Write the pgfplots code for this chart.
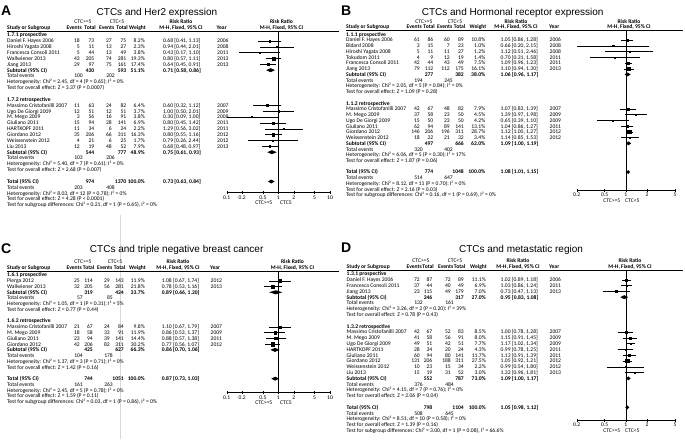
\documentclass[border=0pt]{standalone}
\usepackage{pgfplots}
\pgfplotsset{compat=1.18}
\usepackage{pgfplotstable}
\usepackage{fontspec}
\setmainfont{Carlito}
\newfontfamily\arialf{Liberation Sans}
\newcommand\tf{\fontsize{5.6}{6}\selectfont}

\newcommand\RY[1]{\yz+#1*\rs+1.9}
\newcommand\srow[9]{%
 \node[anchor=base west] at (\xN,{\RY{#1}}) {#2};
 \node[anchor=base east] at (\xEa,{\RY{#1}}) {#3};
 \node[anchor=base east] at (\xTa,{\RY{#1}}) {#4};
 \node[anchor=base east] at (\xEb,{\RY{#1}}) {#5};
 \node[anchor=base east] at (\xTb,{\RY{#1}}) {#6};
 \node[anchor=base east] at (\xW,{\RY{#1}}) {#7};
 \node[anchor=base west] at (\xCI,{\RY{#1}}) {#8};
 \node[anchor=base west] at (\xY,{\RY{#1}}) {#9};}
\newcommand\subrow[5]{%
 \node[anchor=base west,font=\tf\bfseries] at (\xN,{\RY{#1}}) {Subtotal (95\% CI)};
 \node[anchor=base east,font=\tf\bfseries] at (\xTa,{\RY{#1}}) {#2};
 \node[anchor=base east,font=\tf\bfseries] at (\xTb,{\RY{#1}}) {#3};
 \node[anchor=base east,font=\tf\bfseries] at (\xW,{\RY{#1}}) {#4};
 \node[anchor=base west,font=\tf\bfseries] at (\xCI,{\RY{#1}}) {#5};}
\newcommand\totrow[4]{%
 \node[anchor=base west,font=\tf\bfseries] at (\xN,{\RY{#1}}) {Total (95\% CI)};
 \node[anchor=base east,font=\tf\bfseries] at (\xTa,{\RY{#1}}) {#2};
 \node[anchor=base east,font=\tf\bfseries] at (\xTb,{\RY{#1}}) {#3};
 \node[anchor=base east,font=\tf\bfseries] at (\xW,{\RY{#1}}) {100.0\%};
 \node[anchor=base west,font=\tf\bfseries] at (\xCI,{\RY{#1}}) {#4};}
\newcommand\evrow[3]{%
 \node[anchor=base west] at (\xN,{\RY{#1}}) {Total events};
 \node[anchor=base east] at ({\xEa+3},{\RY{#1}}) {#2};
 \node[anchor=base east] at ({\xEb+3},{\RY{#1}}) {#3};}
\newcommand\txt[2]{\node[anchor=base west] at (\xN,{\RY{#1}}) {#2};}
\newcommand\btxt[2]{\node[anchor=base west,font=\tf\bfseries] at (\xN,{\RY{#1}}) {#2};}
\newcommand\hdr{%
 \node[anchor=base] at (\hCa,{\yz-13+1.9}) {CTC>=5};
 \node[anchor=base] at (\hCb,{\yz-13+1.9}) {CTC<5};
 \node[anchor=base,font=\tf\bfseries] at (\hRR,{\yz-13+1.9}) {Risk Ratio};
 \node[anchor=base,font=\tf\bfseries] at (\hRRr,{\yz-13+1.9}) {Risk Ratio};
 \node[anchor=base west,font=\tf\bfseries] at (\xN,{\yz-7.5+1.9}) {Study or Subgroup};
 \node[anchor=base east,font=\tf\bfseries] at ({\xEa+2},{\yz-7.5+1.9}) {Events};
 \node[anchor=base east,font=\tf\bfseries] at ({\xTa+1.5},{\yz-7.5+1.9}) {Total};
 \node[anchor=base east,font=\tf\bfseries] at ({\xEb+2.5},{\yz-7.5+1.9}) {Events};
 \node[anchor=base east,font=\tf\bfseries] at ({\xTb+1.5},{\yz-7.5+1.9}) {Total};
 \node[anchor=base east,font=\tf\bfseries] at ({\xW+1},{\yz-7.5+1.9}) {Weight};
 \node[anchor=base,font=\tf\bfseries] at (\hRR,{\yz-7.5+1.9}) {M-H, Fixed, 95\% CI};
 \node[anchor=base west,font=\tf\bfseries] at ({\xY-0.5},{\yz-7.5+1.9}) {Year};
 \node[anchor=base,font=\tf\bfseries] at (\hRRr,{\yz-7.5+1.9}) {M-H, Fixed, 95\% CI};
 \draw[line width=0.6pt] (\xN,{\yz-4}) -- (\xLE,{\yz-4});}

\pgfplotsset{
 fplot/.style={scale only axis,
   axis y line=none, axis x line*=bottom,
   tick align=center, major tick length=3pt,
   tick style={black,line width=0.4pt}, axis line style={black,line width=0.5pt},
   xticklabel style={font=\tf, inner sep=0.5pt, yshift=-1pt}},
 sq/.style={scatter, only marks, mark=square*, point meta=\thisrow{w},
   scatter/use mapped color={draw=black,fill=black},
   visualization depends on={\thisrow{w}\as\wt},
   scatter/@pre marker code/.append style={/tikz/mark size={max(0.55,0.32*sqrt(\wt))}},
   error bars/x dir=both, error bars/x explicit, error bars/error mark=none,
   error bars/error bar style={black,line width=0.4pt}},
 dm/.style={fill=black, draw=none}
}

\pgfplotstableread{
k rr lo hi w
1 0.68 0.41 1.13 8.2
2 0.94 0.44 2.01 2.3
3 0.43 0.17 1.10 3.8
4 0.80 0.57 1.11 19.3
5 0.64 0.45 0.91 17.4
12 0.60 0.32 1.12 6.4
13 1.00 0.50 2.01 3.7
14 0.30 0.09 1.00 3.8
15 0.80 0.45 1.42 6.9
16 1.29 0.56 3.02 2.2
17 0.80 0.55 1.16 16.3
18 0.79 0.26 2.44 1.7
19 0.68 0.48 0.97 7.9
}\tA
\pgfplotstableread{
k rr lo hi w
1 1.05 0.86 1.28 10.8
2 0.66 0.20 2.15 1.0
3 1.12 0.51 2.46 1.2
4 0.70 0.31 1.58 1.4
5 1.09 0.96 1.23 7.5
6 1.10 0.94 1.30 16.1
13 1.07 0.83 1.39 7.9
14 1.39 0.97 1.98 4.5
15 0.65 0.39 1.10 4.2
16 1.04 0.86 1.27 13.1
17 1.12 1.00 1.27 28.7
18 1.14 0.85 1.53 3.4
}\tB
\pgfplotstableread{
k rr lo hi w
1 1.08 0.67 1.74 11.9
2 0.78 0.53 1.16 21.8
9 1.10 0.67 1.79 9.8
10 0.86 0.53 1.37 11.9
11 0.88 0.57 1.38 14.4
12 0.77 0.56 1.07 30.2
}\tC
\pgfplotstableread{
k rr lo hi w
1 1.02 0.89 1.18 11.1
2 1.03 0.86 1.24 6.9
3 0.73 0.47 1.13 7.0
10 1.00 0.78 1.28 8.5
11 1.15 0.91 1.45 8.0
12 1.17 1.02 1.34 7.7
13 0.99 0.78 1.25 4.3
14 1.13 0.91 1.39 11.7
15 1.05 0.92 1.21 27.5
16 0.99 0.54 1.80 2.2
17 1.32 0.96 1.81 3.0
}\tD
% diamonds: x k d
\pgfplotstableread{
x k d
0.58 6 0
0.71 6 2
0.86 6 0
0.71 6 -2
nan nan nan
0.61 20 0
0.75 20 2
0.93 20 0
0.75 20 -2
nan nan nan
0.63 25 0
0.73 25 2
0.84 25 0
0.73 25 -2
}\dA
\pgfplotstableread{
x k d
0.96 7 0
1.06 7 2
1.17 7 0
1.06 7 -2
nan nan nan
1.00 19 0
1.09 19 2
1.19 19 0
1.09 19 -2
nan nan nan
1.01 24 0
1.08 24 2
1.15 24 0
1.08 24 -2
}\dB
\pgfplotstableread{
x k d
0.66 3 0
0.89 3 2
1.20 3 0
0.89 3 -2
nan nan nan
0.70 13 0
0.86 13 2
1.06 13 0
0.86 13 -2
nan nan nan
0.73 18 0
0.87 18 2
1.03 18 0
0.87 18 -2
}\dC
\pgfplotstableread{
x k d
0.83 4 0
0.95 4 2
1.08 4 0
0.95 4 -2
nan nan nan
1.00 18 0
1.09 18 2
1.17 18 0
1.09 18 -2
nan nan nan
0.98 23 0
1.05 23 2
1.12 23 0
1.05 23 -2
}\dD

\begin{document}
\begin{tikzpicture}
\path[use as bounding box] (0pt,0pt) rectangle (685pt,-439pt);

% ---------- forest plots ----------
\begin{axis}[xmode=log, fplot, anchor=south west, at={(226.7pt,-192.3pt)}, width=103.3pt, height=161.3pt,
  xmin=0.1, xmax=10, ymin=-192.3, ymax=-31, xminorticks=false,
  xtick={0.1,0.2,0.5,1,2,5,10}, xticklabels={0.1,0.2,0.5,1,2,5,10}]
 \addplot[black,line width=0.5pt] coordinates {(1,-31) (1,-192.3)};
 \addplot[sq] table[x=rr, y expr={-(35+\thisrow{k}*5.86)},
   x error plus expr={\thisrow{hi}-\thisrow{rr}}, x error minus expr={\thisrow{rr}-\thisrow{lo}}] {\tA};
 \addplot[dm, unbounded coords=jump] table[x=x, y expr={-(35+\thisrow{k}*5.86)+\thisrow{d}}] {\dA};
\end{axis}

\begin{axis}[xmode=log, fplot, anchor=south west, at={(576.7pt,-190pt)}, width=98.3pt, height=159.7pt,
  xmin=0.2, xmax=5, ymin=-190, ymax=-30.3, xminorticks=false,
  xtick={0.2,0.5,1,2,5}, xticklabels={0.2,0.5,1,2,5}]
 \addplot[black,line width=0.5pt] coordinates {(1,-30.3) (1,-190)};
 \addplot[sq] table[x=rr, y expr={-(34.3+\thisrow{k}*5.74)},
   x error plus expr={\thisrow{hi}-\thisrow{rr}}, x error minus expr={\thisrow{rr}-\thisrow{lo}}] {\tB};
 \addplot[dm, unbounded coords=jump] table[x=x, y expr={-(34.3+\thisrow{k}*5.74)+\thisrow{d}}] {\dB};
\end{axis}

\begin{axis}[xmode=log, fplot, anchor=south west, at={(226.7pt,-392.7pt)}, width=103.3pt, height=121.7pt,
  xmin=0.1, xmax=10, ymin=-392.7, ymax=-271, xminorticks=false,
  xtick={0.1,0.2,0.5,1,2,5,10}, xticklabels={0.1,0.2,0.5,1,2,5,10}]
 \addplot[black,line width=0.5pt] coordinates {(1,-271) (1,-392.7)};
 \addplot[sq] table[x=rr, y expr={-(275+\thisrow{k}*5.76)},
   x error plus expr={\thisrow{hi}-\thisrow{rr}}, x error minus expr={\thisrow{rr}-\thisrow{lo}}] {\tC};
 \addplot[dm, unbounded coords=jump] table[x=x, y expr={-(275+\thisrow{k}*5.76)+\thisrow{d}}] {\dC};
\end{axis}

\begin{axis}[xmode=log, fplot, anchor=south west, at={(576.7pt,-420pt)}, width=98.3pt, height=150pt,
  xmin=0.2, xmax=5, ymin=-420, ymax=-270, xminorticks=false,
  xtick={0.2,0.5,1,2,5}, xticklabels={0.2,0.5,1,2,5}]
 \addplot[black,line width=0.5pt] coordinates {(1,-270) (1,-420)};
 \addplot[sq] table[x=rr, y expr={-(274+\thisrow{k}*5.8)},
   x error plus expr={\thisrow{hi}-\thisrow{rr}}, x error minus expr={\thisrow{rr}-\thisrow{lo}}] {\tD};
 \addplot[dm, unbounded coords=jump] table[x=x, y expr={-(274+\thisrow{k}*5.8)+\thisrow{d}}] {\dD};
\end{axis}

% ---------- text ----------
\begin{scope}[x=1pt, y=-1pt, every node/.style={inner sep=0pt, font=\tf}]
\draw[gray!30, line width=0.4pt] (120,215) -- (120,439);

% ===== Panel A =====
\node[anchor=base west, font=\arialf\bfseries\fontsize{14}{16}\selectfont] at (1,15) {A};
\node[anchor=base, font=\arialf\fontsize{10}{12}\selectfont] at (157,15) {CTCs and Her2 expression};
\def\yz{35}\def\rs{5.86}
\def\xN{7}\def\xEa{80}\def\xTa{94.5}\def\xEb{112}\def\xTb{126.5}\def\xW{145}\def\xCI{163}\def\xY{217}
\def\hCa{83}\def\hCb{117}\def\hRR{181}\def\hRRr{281.5}\def\xLE{339}
\hdr
\btxt{0}{1.7.1 prospective}
\srow{1}{Daniel F. Hayes 2006}{18}{73}{27}{75}{8.2\%}{0.68 [0.41, 1.13]}{2006}
\srow{2}{Hiroshi Yagata 2008}{5}{11}{13}{27}{2.3\%}{0.94 [0.44, 2.01]}{2008}
\srow{3}{Francesca Consoli 2011}{5}{44}{13}{49}{3.8\%}{0.43 [0.17, 1.10]}{2011}
\srow{4}{Wallwiener 2013}{43}{205}{74}{281}{19.3\%}{0.80 [0.57, 1.11]}{2013}
\srow{5}{Jiang 2013}{29}{97}{75}{161}{17.4\%}{0.64 [0.45, 0.91]}{2013}
\subrow{6}{430}{593}{51.1\%}{0.71 [0.58, 0.86]}
\evrow{7}{100}{202}
\txt{8}{Heterogeneity: Chi² = 2.45, df = 4 (P = 0.65); I² = 0\%}
\txt{9}{Test for overall effect: Z = 3.37 (P = 0.0007)}
\btxt{11}{1.7.2 retrospective}
\srow{12}{Massimo Cristofanilli 2007}{11}{63}{24}{82}{6.4\%}{0.60 [0.32, 1.12]}{2007}
\srow{13}{Ugo De Giorgi 2009}{12}{51}{12}{51}{3.7\%}{1.00 [0.50, 2.01]}{2009}
\srow{14}{M. Mego 2009}{3}{56}{16}{91}{3.8\%}{0.30 [0.09, 1.00]}{2009}
\srow{15}{Giuliano 2011}{15}{94}{28}{141}{6.9\%}{0.80 [0.45, 1.42]}{2011}
\srow{16}{HARTKOPF 2011}{11}{34}{6}{24}{2.2\%}{1.29 [0.56, 3.02]}{2011}
\srow{17}{Giordano 2012}{35}{206}{66}{311}{16.3\%}{0.80 [0.55, 1.16]}{2012}
\srow{18}{Weissenstein 2012}{4}{21}{6}{25}{1.7\%}{0.79 [0.26, 2.44]}{2012}
\srow{19}{Liu 2013}{12}{19}{48}{52}{7.9\%}{0.68 [0.48, 0.97]}{2013}
\subrow{20}{544}{777}{48.9\%}{0.75 [0.61, 0.93]}
\evrow{21}{103}{206}
\txt{22}{Heterogeneity: Chi² = 5.40, df = 7 (P = 0.61); I² = 0\%}
\txt{23}{Test for overall effect: Z = 2.68 (P = 0.007)}
\totrow{25}{974}{1370}{0.73 [0.63, 0.84]}
\evrow{26}{203}{408}
\txt{27}{Heterogeneity: Chi² = 8.03, df = 12 (P = 0.78); I² = 0\%}
\txt{28}{Test for overall effect: Z = 4.28 (P < 0.0001)}
\txt{29}{Test for subgroup differences: Chi² = 0.21, df = 1 (P = 0.65), I² = 0\%}
\node[anchor=base east] at (272.5,{192.3+12.3}) {CTC>=5};
\node[anchor=base west] at (280,{192.3+12.3}) {CTC5};

% ===== Panel B =====
\node[anchor=base west, font=\arialf\bfseries\fontsize{14}{16}\selectfont] at (341,15) {B};
\node[anchor=base, font=\arialf\fontsize{10}{12}\selectfont] at (512.7,15) {CTCs and Hormonal receptor expression};
\def\yz{34.3}\def\rs{5.74}
\def\xN{346}\def\xEa{420}\def\xTa{433.5}\def\xEb{450}\def\xTb{464}\def\xW{485.5}\def\xCI{500.5}\def\xY{549.5}
\def\hCa{424}\def\hCb{455}\def\hRR{516}\def\hRRr{629}\def\xLE{683}
\hdr
\btxt{0}{1.1.1 prospective}
\srow{1}{Daniel F. Hayes 2006}{61}{86}{60}{89}{10.8\%}{1.05 [0.86, 1.28]}{2006}
\srow{2}{Bidard 2008}{3}{15}{7}{23}{1.0\%}{0.66 [0.20, 2.15]}{2008}
\srow{3}{Hiroshi Yagata 2008}{5}{11}{11}{27}{1.2\%}{1.12 [0.51, 2.46]}{2008}
\srow{4}{Tokudom 2011}{4}{9}{12}{19}{1.4\%}{0.70 [0.31, 1.58]}{2011}
\srow{5}{Francesca Consoli 2011}{42}{44}{43}{49}{7.5\%}{1.09 [0.96, 1.23]}{2011}
\srow{6}{Jiang 2013}{79}{112}{112}{175}{16.1\%}{1.10 [0.94, 1.30]}{2013}
\subrow{7}{277}{382}{38.0\%}{1.06 [0.96, 1.17]}
\evrow{8}{194}{245}
\txt{9}{Heterogeneity: Chi² = 2.05, df = 5 (P = 0.84); I² = 0\%}
\txt{10}{Test for overall effect: Z = 1.09 (P = 0.28)}
\btxt{12}{1.1.2 retrospective}
\srow{13}{Massimo Cristofanilli 2007}{42}{67}{48}{82}{7.9\%}{1.07 [0.83, 1.39]}{2007}
\srow{14}{M. Mego 2009}{37}{58}{23}{50}{4.5\%}{1.39 [0.97, 1.98]}{2009}
\srow{15}{Ugo De Giorgi 2009}{15}{50}{23}{50}{4.2\%}{0.65 [0.39, 1.10]}{2009}
\srow{16}{Giuliano 2011}{62}{94}{89}{141}{13.1\%}{1.04 [0.86, 1.27]}{2011}
\srow{17}{Giordano 2012}{146}{206}{196}{311}{28.7\%}{1.12 [1.00, 1.27]}{2012}
\srow{18}{Weissenstein 2012}{18}{22}{21}{32}{3.4\%}{1.14 [0.85, 1.53]}{2012}
\subrow{19}{497}{666}{62.0\%}{1.09 [1.00, 1.19]}
\evrow{20}{320}{402}
\txt{21}{Heterogeneity: Chi² = 6.06, df = 5 (P = 0.30); I² = 17\%}
\txt{22}{Test for overall effect: Z = 1.87 (P = 0.06)}
\totrow{24}{774}{1048}{1.08 [1.01, 1.15]}
\evrow{25}{514}{647}
\txt{26}{Heterogeneity: Chi² = 8.12, df = 11 (P = 0.70); I² = 0\%}
\txt{27}{Test for overall effect: Z = 2.16 (P = 0.03)}
\txt{28}{Test for subgroup differences: Chi² = 0.16, df = 1 (P = 0.69), I² = 0\%}
\node[anchor=base east] at (620.5,{190+12}) {CTC>=5};
\node[anchor=base west] at (625,{190+12}) {CTC<5};

% ===== Panel C =====
\node[anchor=base west, font=\arialf\bfseries\fontsize{14}{16}\selectfont] at (1,253) {C};
\node[anchor=base, font=\arialf\fontsize{10}{12}\selectfont] at (176.7,252.5) {CTCs and triple negative breast cancer};
\def\yz{275}\def\rs{5.76}
\def\xN{7}\def\xEa{80}\def\xTa{93}\def\xEb{110}\def\xTb{124}\def\xW{145}\def\xCI{161.7}\def\xY{210.5}
\def\hCa{83}\def\hCb{115}\def\hRR{178}\def\hRRr{292.5}\def\xLE{339}
\hdr
\btxt{0}{1.6.1 prospective}
\srow{1}{Pierga 2012}{25}{114}{29}{143}{11.9\%}{1.08 [0.67, 1.74]}{2012}
\srow{2}{Wallwiener 2013}{32}{205}{56}{281}{21.8\%}{0.78 [0.53, 1.16]}{2013}
\subrow{3}{319}{424}{33.7\%}{0.89 [0.66, 1.20]}
\evrow{4}{57}{85}
\txt{5}{Heterogeneity: Chi² = 1.05, df = 1 (P = 0.31); I² = 5\%}
\txt{6}{Test for overall effect: Z = 0.77 (P = 0.44)}
\btxt{8}{1.6.2 retrospective}
\srow{9}{Massimo Cristofanilli 2007}{21}{67}{24}{84}{9.8\%}{1.10 [0.67, 1.79]}{2007}
\srow{10}{M. Mego 2009}{18}{58}{33}{91}{11.9\%}{0.86 [0.53, 1.37]}{2009}
\srow{11}{Giuliano 2011}{23}{94}{39}{141}{14.4\%}{0.88 [0.57, 1.38]}{2011}
\srow{12}{Giordano 2012}{42}{206}{82}{311}{30.2\%}{0.77 [0.56, 1.07]}{2012}
\subrow{13}{425}{627}{66.3\%}{0.86 [0.70, 1.06]}
\evrow{14}{104}{178}
\txt{15}{Heterogeneity: Chi² = 1.37, df = 3 (P = 0.71); I² = 0\%}
\txt{16}{Test for overall effect: Z = 1.42 (P = 0.16)}
\totrow{18}{744}{1051}{0.87 [0.73, 1.03]}
\evrow{19}{161}{263}
\txt{20}{Heterogeneity: Chi² = 2.45, df = 5 (P = 0.78); I² = 0\%}
\txt{21}{Test for overall effect: Z = 1.59 (P = 0.11)}
\txt{22}{Test for subgroup differences: Chi² = 0.03, df = 1 (P = 0.86), I² = 0\%}
\node[anchor=base east] at (272.5,{392.7+12}) {CTC>=5};
\node[anchor=base west] at (280,{392.7+12}) {CTC5};

% ===== Panel D =====
\node[anchor=base west, font=\arialf\bfseries\fontsize{14}{16}\selectfont] at (341,252.5) {D};
\node[anchor=base, font=\arialf\fontsize{10}{12}\selectfont] at (521,252) {CTCs and metastatic region};
\def\yz{274}\def\rs{5.8}
\def\xN{346.5}\def\xEa{420}\def\xTa{432.5}\def\xEb{451}\def\xTb{464}\def\xW{486}\def\xCI{500.5}\def\xY{549.5}
\def\hCa{421}\def\hCb{455}\def\hRR{518}\def\hRRr{630}\def\xLE{683}
\hdr
\btxt{0}{1.3.1 prospective}
\srow{1}{Daniel F. Hayes 2006}{72}{87}{72}{89}{11.1\%}{1.02 [0.89, 1.18]}{2006}
\srow{2}{Francesca Consoli 2011}{37}{44}{40}{49}{6.9\%}{1.03 [0.86, 1.24]}{2011}
\srow{3}{Jiang 2013}{23}{115}{49}{179}{7.0\%}{0.73 [0.47, 1.13]}{2013}
\subrow{4}{246}{317}{27.0\%}{0.95 [0.83, 1.08]}
\evrow{5}{132}{161}
\txt{6}{Heterogeneity: Chi² = 3.26, df = 2 (P = 0.20); I² = 39\%}
\txt{7}{Test for overall effect: Z = 0.78 (P = 0.43)}
\btxt{9}{1.3.2 retrospective}
\srow{10}{Massimo Cristofanilli 2007}{42}{67}{52}{83}{8.5\%}{1.00 [0.78, 1.28]}{2007}
\srow{11}{M. Mego 2009}{41}{58}{56}{91}{8.0\%}{1.15 [0.91, 1.45]}{2009}
\srow{12}{Ugo De Giorgi 2009}{49}{51}{42}{51}{7.7\%}{1.17 [1.02, 1.34]}{2009}
\srow{13}{HARTKOPF 2011}{28}{34}{20}{24}{4.3\%}{0.99 [0.78, 1.25]}{2011}
\srow{14}{Giuliano 2011}{60}{94}{80}{141}{11.7\%}{1.13 [0.91, 1.39]}{2011}
\srow{15}{Giordano 2012}{131}{206}{188}{311}{27.5\%}{1.05 [0.92, 1.21]}{2012}
\srow{16}{Weissenstein 2012}{10}{23}{15}{34}{2.2\%}{0.99 [0.54, 1.80]}{2012}
\srow{17}{Liu 2013}{15}{19}{31}{52}{3.0\%}{1.32 [0.96, 1.81]}{2013}
\subrow{18}{552}{787}{73.0\%}{1.09 [1.00, 1.17]}
\evrow{19}{376}{484}
\txt{20}{Heterogeneity: Chi² = 4.15, df = 7 (P = 0.76); I² = 0\%}
\txt{21}{Test for overall effect: Z = 2.06 (P = 0.04)}
\totrow{23}{798}{1104}{1.05 [0.98, 1.12]}
\evrow{24}{508}{645}
\txt{25}{Heterogeneity: Chi² = 8.51, df = 10 (P = 0.58); I² = 0\%}
\txt{26}{Test for overall effect: Z = 1.39 (P = 0.16)}
\txt{27}{Test for subgroup differences: Chi² = 3.00, df = 1 (P = 0.08), I² = 66.6\%}
\node[anchor=base east] at (620.5,{420+12}) {CTC>=5};
\node[anchor=base west] at (625,{420+12}) {CTC<5};
\end{scope}
\end{tikzpicture}
\end{document}
